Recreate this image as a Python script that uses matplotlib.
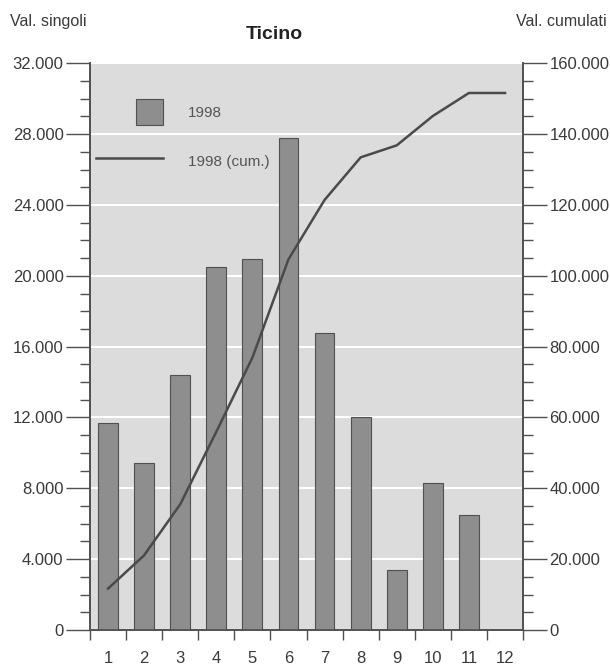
import matplotlib
matplotlib.use("Agg")
import matplotlib.pyplot as plt
from matplotlib.ticker import FuncFormatter, MultipleLocator, FixedLocator
from matplotlib.patches import Patch, Rectangle
from matplotlib.lines import Line2D
from matplotlib.legend_handler import HandlerPatch

plt.rcParams["font.family"] = ["Liberation Sans", "DejaVu Sans"]

# dati
mesi = [1, 2, 3, 4, 5, 6, 7, 8, 9, 10, 11, 12]
singoli = [11680, 9420, 14390, 20480, 20930, 27760, 16760, 12020, 3390, 8290, 6490, 0]
cumulati = [11680, 21100, 35490, 55970, 76900, 104660, 121420, 133440, 136830, 145120, 151610, 151610]

txt = "#3a3a3a"
fmt = FuncFormatter(lambda v, p: f"{int(v):,}".replace(",", "."))


# quadratino della legenda allineato a destra
class QuadHandler(HandlerPatch):
    def create_artists(self, legend, orig, xd, yd, w, h, fontsize, trans):
        s = h * 1.3
        r = Rectangle((w - s - xd, -yd + (h - s) / 2), s, s,
                      facecolor=orig.get_facecolor(), edgecolor=orig.get_edgecolor(),
                      linewidth=0.8, transform=trans)
        return [r]


fig = plt.figure(figsize=(6.1, 6.66), dpi=100)
ax = fig.add_axes([0.1475, 0.054, 0.71, 0.851])
ax.set_facecolor("#dcdcdc")

ax.bar(mesi, singoli, width=0.55, color="#8e8e8e", edgecolor="#505050", linewidth=0.8, zorder=3)
ax.set_xlim(0.5, 12.5)
ax.set_ylim(0, 32000)
ax.yaxis.set_major_locator(MultipleLocator(4000))
ax.yaxis.set_minor_locator(MultipleLocator(1000))
ax.yaxis.set_major_formatter(fmt)
ax.grid(axis="y", color="white", linewidth=1.5, zorder=1)
ax.set_axisbelow(True)

ax.xaxis.set_major_locator(FixedLocator(mesi))
ax.xaxis.set_minor_locator(FixedLocator([m + 0.5 for m in [0] + mesi]))
ax.tick_params(axis="x", which="major", length=0, pad=15, labelsize=12, labelcolor=txt)
ax.tick_params(axis="x", which="minor", length=7, width=1, color="#505050")
ax.tick_params(axis="y", which="major", length=17, width=1, color="#505050", labelsize=12, labelcolor=txt, pad=2)
ax.tick_params(axis="y", which="minor", length=7, width=1, color="#505050")

ax2 = ax.twinx()
ax2.plot(mesi, cumulati, color="#4a4a4a", linewidth=1.8, zorder=4)
ax2.set_ylim(0, 160000)
ax2.yaxis.set_major_locator(MultipleLocator(20000))
ax2.yaxis.set_minor_locator(MultipleLocator(5000))
ax2.yaxis.set_major_formatter(fmt)
ax2.tick_params(axis="y", which="major", length=17, width=1, color="#505050", labelsize=12, labelcolor=txt, pad=2)
ax2.tick_params(axis="y", which="minor", length=7, width=1, color="#505050")

for a in (ax, ax2):
    a.spines["top"].set_visible(False)
    for s in ("left", "right", "bottom"):
        a.spines[s].set_color("#505050")
        a.spines[s].set_linewidth(1.2)

barra = Patch(facecolor="#8e8e8e", edgecolor="#505050", label="1998")
linea = Line2D([0], [0], color="#4a4a4a", linewidth=1.8, label="1998 (cum.)")
leg = ax.legend(handles=[barra, linea], handler_map={Patch: QuadHandler()},
                loc="upper left", bbox_to_anchor=(0.0, 0.943), frameon=False,
                borderaxespad=0, borderpad=0.4,
                fontsize=11, labelcolor="#555555", handlelength=4.4, handleheight=1.7,
                labelspacing=1.85, handletextpad=1.6)

fig.text(0.016, 0.968, "Val. singoli", fontsize=11.5, color=txt, ha="left", va="center")
fig.text(0.994, 0.968, "Val. cumulati", fontsize=11.5, color=txt, ha="right", va="center")
fig.text(0.45, 0.948, "Ticino", fontsize=14, fontweight="bold", color="#222222", ha="center", va="center")

fig.savefig("out.png", dpi=100)
